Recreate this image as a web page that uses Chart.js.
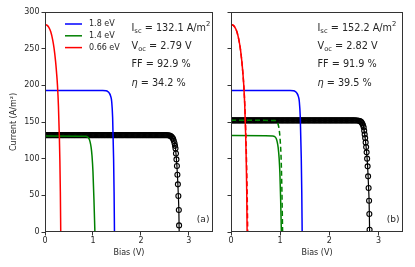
<!DOCTYPE html>
<html>
<head>
<meta charset="utf-8">
<script src="https://cdn.jsdelivr.net/npm/chart.js@4.4.1/dist/chart.umd.min.js"></script>
<style>
    html, body { margin: 0; padding: 0; background: #fff; }
    #wrap { position: relative; width: 415px; height: 267px; overflow: hidden; }
    canvas { position: absolute; top: 0; }
    #chartA { left: 0; }
    #chartB { left: 218px; }
</style>
</head>
<body>
<div id="wrap">
    <canvas id="chartA" width="218" height="267"></canvas>
    <canvas id="chartB" width="197" height="267"></canvas>
</div>
<script>
// ============ DATA ============

const xTicks = [0, 1, 2, 3];
const yTicks = [0, 50, 100, 150, 200, 250, 300];
const legendLabels = ['1.8 eV', '1.4 eV', '0.66 eV'];
const panelTags = ['(a)', '(b)'];
const iscValues = ['132.1', '152.2'];
const vocValues = ['2.79', '2.82'];
const ffValues = ['92.9', '91.9'];
const etaValues = ['34.2', '39.5'];

// 0.66 eV subcell
const redBias = [0, 0.04, 0.08, 0.12, 0.16, 0.19, 0.22, 0.24, 0.26, 0.28, 0.30, 0.31, 0.32, 0.328];
const redCurrent = [283, 282, 279, 273, 262, 250, 233, 218, 200, 172, 128, 98, 55, 0];
const redDashBias = [0, 0.04, 0.08, 0.12, 0.16, 0.19, 0.22, 0.24, 0.26, 0.28, 0.30, 0.315, 0.33, 0.34];
const redDashCurrent = [283, 282, 279, 273, 262, 250, 233, 218, 200, 175, 138, 100, 50, 0];

// 1.8 eV subcell
const blueBias = [0, 1.2, 1.27, 1.31, 1.34, 1.37, 1.39, 1.41, 1.43, 1.44, 1.448];
const blueCurrent = [193, 192.8, 192.5, 191.5, 189.5, 185, 178, 156, 100, 55, 0];

// 1.4 eV subcell
const greenBiasA = [0, 0.85, 0.89, 0.92, 0.94, 0.96, 0.98, 1.0, 1.02, 1.04];
const greenCurrentA = [131, 130.6, 129.5, 127, 123, 116, 104, 82, 45, 0];
const greenBiasB = [0, 0.85, 0.89, 0.92, 0.94, 0.96, 0.98, 0.995, 1.01, 1.025];
const greenCurrentB = [131.5, 131, 130, 127.5, 123, 115, 100, 80, 45, 0];
const greenDashBias = [0, 0.9, 0.94, 0.96, 0.98, 1.0, 1.02, 1.035, 1.05];
const greenDashCurrent = [152.5, 152, 150, 146.5, 140, 126, 100, 60, 0];

// tandem (markers)
const tandemBiasA = [
    0, 0.025, 0.05, 0.075, 0.1, 0.125, 0.15, 0.175, 0.2, 0.225,
    0.25, 0.275, 0.3, 0.325, 0.35, 0.375, 0.4, 0.425, 0.45, 0.475,
    0.5, 0.525, 0.55, 0.575, 0.6, 0.625, 0.65, 0.675, 0.7, 0.725,
    0.75, 0.775, 0.8, 0.825, 0.85, 0.875, 0.9, 0.925, 0.95, 0.975,
    1, 1.025, 1.05, 1.075, 1.1, 1.125, 1.15, 1.175, 1.2, 1.225,
    1.25, 1.275, 1.3, 1.325, 1.35, 1.375, 1.4, 1.425, 1.45, 1.475,
    1.5, 1.525, 1.55, 1.575, 1.6, 1.625, 1.65, 1.675, 1.7, 1.725,
    1.75, 1.775, 1.8, 1.825, 1.85, 1.875, 1.9, 1.925, 1.95, 1.975,
    2, 2.025, 2.05, 2.075, 2.1, 2.125, 2.15, 2.175, 2.2, 2.225,
    2.25, 2.275, 2.3, 2.325, 2.35, 2.375, 2.4, 2.425, 2.45, 2.475,
    2.5, 2.525, 2.55,
    2.575, 2.6, 2.62, 2.64, 2.655, 2.67, 2.685, 2.7, 2.71, 2.72, 2.73, 2.74,
    2.75, 2.76, 2.77, 2.78, 2.79, 2.795
];
const tandemCurrentA = [
    132.1, 132.1, 132.1, 132.1, 132.1, 132.1, 132.1, 132.1, 132.1, 132.1,
    132.1, 132.1, 132.1, 132.1, 132.1, 132.1, 132.1, 132.1, 132.1, 132.1,
    132.1, 132.1, 132.1, 132.1, 132.1, 132.1, 132.1, 132.1, 132.1, 132.1,
    132.1, 132.1, 132.1, 132.1, 132.1, 132.1, 132.1, 132.1, 132.1, 132.1,
    132.1, 132.1, 132.1, 132.1, 132.1, 132.1, 132.1, 132.1, 132.1, 132.1,
    132.1, 132.1, 132.1, 132.1, 132.1, 132.1, 132.1, 132.1, 132.1, 132.1,
    132.1, 132.1, 132.1, 132.1, 132.1, 132.1, 132.1, 132.1, 132.1, 132.1,
    132.1, 132.1, 132.1, 132.1, 132.1, 132.1, 132.1, 132.1, 132.1, 132.1,
    132.1, 132.1, 132.1, 132.1, 132.1, 132.1, 132.1, 132.1, 132.1, 132.1,
    132.1, 132.1, 132.1, 132.1, 132.1, 132.1, 132.1, 132.1, 132.1, 132.1,
    132.1, 132.1, 132.0,
    131.8, 131.4, 130.8, 129.8, 128.6, 127, 124.5, 121, 117.5, 114, 107, 99,
    90, 78, 65, 49, 30, 9
];
const tandemEndA = [2.797, 0];

const tandemBiasB = [
    0, 0.025, 0.05, 0.075, 0.1, 0.125, 0.15, 0.175, 0.2, 0.225,
    0.25, 0.275, 0.3, 0.325, 0.35, 0.375, 0.4, 0.425, 0.45, 0.475,
    0.5, 0.525, 0.55, 0.575, 0.6, 0.625, 0.65, 0.675, 0.7, 0.725,
    0.75, 0.775, 0.8, 0.825, 0.85, 0.875, 0.9, 0.925, 0.95, 0.975,
    1, 1.025, 1.05, 1.075, 1.1, 1.125, 1.15, 1.175, 1.2, 1.225,
    1.25, 1.275, 1.3, 1.325, 1.35, 1.375, 1.4, 1.425, 1.45, 1.475,
    1.5, 1.525, 1.55, 1.575, 1.6, 1.625, 1.65, 1.675, 1.7, 1.725,
    1.75, 1.775, 1.8, 1.825, 1.85, 1.875, 1.9, 1.925, 1.95, 1.975,
    2, 2.025, 2.05, 2.075, 2.1, 2.125, 2.15, 2.175, 2.2, 2.225,
    2.25, 2.275, 2.3, 2.325, 2.35, 2.375, 2.4, 2.425, 2.45, 2.475,
    2.5, 2.525, 2.55, 2.575, 2.6,
    2.62, 2.64, 2.655, 2.67, 2.685, 2.70, 2.71, 2.72, 2.73, 2.74, 2.75, 2.76, 2.77,
    2.78, 2.79, 2.80, 2.81, 2.815, 2.82
];
const tandemCurrentB = [
    152.2, 152.2, 152.2, 152.2, 152.2, 152.2, 152.2, 152.2, 152.2, 152.2,
    152.2, 152.2, 152.2, 152.2, 152.2, 152.2, 152.2, 152.2, 152.2, 152.2,
    152.2, 152.2, 152.2, 152.2, 152.2, 152.2, 152.2, 152.2, 152.2, 152.2,
    152.2, 152.2, 152.2, 152.2, 152.2, 152.2, 152.2, 152.2, 152.2, 152.2,
    152.2, 152.2, 152.2, 152.2, 152.2, 152.2, 152.2, 152.2, 152.2, 152.2,
    152.2, 152.2, 152.2, 152.2, 152.2, 152.2, 152.2, 152.2, 152.2, 152.2,
    152.2, 152.2, 152.2, 152.2, 152.2, 152.2, 152.2, 152.2, 152.2, 152.2,
    152.2, 152.2, 152.2, 152.2, 152.2, 152.2, 152.2, 152.2, 152.2, 152.2,
    152.2, 152.2, 152.2, 152.2, 152.2, 152.2, 152.2, 152.2, 152.2, 152.2,
    152.2, 152.2, 152.2, 152.2, 152.2, 152.2, 152.2, 152.2, 152.2, 152.2,
    152.2, 152.2, 152.1, 152.0, 151.8,
    151.3, 150.5, 149.5, 148, 146, 142.7, 138.2, 133.1, 128.2, 122.2, 115.8, 108.6, 100,
    89.5, 75.9, 60, 42.7, 24.6, 3
];
const tandemEndB = [2.822, 0];

// ============ HELPERS ============

const FONT = '"DejaVu Sans", sans-serif';
const TEXT = '#262626';
const AXIS = '#333';

function pts(xs, ys) {
    return xs.map((x, i) => ({ x: x, y: ys[i] }));
}

function curve(xs, ys, color, dash) {
    return {
        data: pts(xs, ys),
        borderColor: color,
        borderWidth: 1.5,
        borderDash: dash || [],
        cubicInterpolationMode: 'monotone',
        pointRadius: 0,
        fill: false,
        clip: 0,
    };
}

function tandemLine(xs, ys, end) {
    const d = curve(xs, ys, '#000');
    d.data.push({ x: end[0], y: end[1] });
    d.borderWidth = 1.2;
    return d;
}

function tandemMarkers(xs, ys) {
    return {
        data: pts(xs, ys),
        showLine: false,
        pointStyle: 'circle',
        pointRadius: 2.5,
        pointBorderWidth: 1.1,
        pointBorderColor: '#000',
        pointBackgroundColor: 'rgba(0,0,0,0)',
        clip: 0,
    };
}

function rich(ctx, x, y, parts) {
    parts.forEach(p => {
        let size = 9.7, dy = 0;
        if (p.sub) { size = 6.8; dy = 2.5; }
        if (p.sup) { size = 6.8; dy = -4.5; }
        ctx.font = (p.it ? 'italic ' : '') + size + 'px ' + FONT;
        ctx.fillText(p.t, x, y + dy);
        x += ctx.measureText(p.t).width;
    });
}

const panelPlugin = {
    id: 'panel',
    afterDraw(chart, args, o) {
        const ctx = chart.ctx;
        const a = chart.chartArea;
        ctx.save();
        // frame
        ctx.strokeStyle = AXIS;
        ctx.lineWidth = 1;
        ctx.strokeRect(Math.round(a.left) + 0.5, Math.round(a.top) + 0.5,
            Math.round(a.right - a.left) - 1, Math.round(a.bottom - a.top) - 1);

        // legend
        if (o.legend) {
            o.legend.forEach((it, i) => {
                const y = a.top + 12 + i * 11.8;
                ctx.strokeStyle = it.color;
                ctx.lineWidth = 1.5;
                ctx.beginPath();
                ctx.moveTo(a.left + 20, y);
                ctx.lineTo(a.left + 37, y);
                ctx.stroke();
                ctx.fillStyle = TEXT;
                ctx.font = '8px ' + FONT;
                ctx.textBaseline = 'middle';
                ctx.textAlign = 'left';
                ctx.fillText(it.text, a.left + 44, y);
            });
        }

        // figures of merit
        ctx.fillStyle = TEXT;
        ctx.textBaseline = 'alphabetic';
        ctx.textAlign = 'left';
        const x = a.left + 86.5;
        rich(ctx, x, a.top + 18.5, [{ t: 'I' }, { t: 'sc', sub: 1 }, { t: ' = ' + o.isc + ' A/m' }, { t: '2', sup: 1 }]);
        rich(ctx, x, a.top + 36.5, [{ t: 'V' }, { t: 'oc', sub: 1 }, { t: ' = ' + o.voc + ' V' }]);
        rich(ctx, x, a.top + 55, [{ t: 'FF = ' + o.ff + ' %' }]);
        rich(ctx, x, a.top + 73.5, [{ t: 'η', it: 1 }, { t: ' = ' + o.eta + ' %' }]);

        // panel tag
        ctx.font = '9px ' + FONT;
        ctx.textAlign = 'right';
        ctx.fillText(o.tag, a.right - 3.5, a.top + 209.5);
        ctx.restore();
    }
};

function scalesFor(withLabels, yWidth) {
    const font = { family: FONT, size: 8 };
    const grid = { display: true, drawOnChartArea: false, drawTicks: true, tickLength: 3.5, color: AXIS, lineWidth: 1 };
    return {
        x: {
            type: 'linear', min: 0, max: 3.5,
            afterFit: s => { s.height = 35; },
            afterBuildTicks: s => { s.ticks = xTicks.map(v => ({ value: v })); },
            ticks: { font: font, color: TEXT, padding: 1, maxRotation: 0 },
            grid: grid,
            border: { display: false },
            title: { display: true, text: 'Bias (V)', font: font, color: TEXT, padding: { top: 0, bottom: 9 } }
        },
        y: {
            type: 'linear', min: 0, max: 300,
            afterFit: s => { s.width = yWidth; },
            afterBuildTicks: s => { s.ticks = yTicks.map(v => ({ value: v })); },
            ticks: { font: font, color: TEXT, padding: 2, callback: withLabels ? (v => v) : (() => '') },
            grid: grid,
            border: { display: false },
            title: withLabels
                ? { display: true, text: 'Current (A/m²)', font: font, color: TEXT, padding: { top: 9, bottom: 0 } }
                : { display: false }
        }
    };
}

// ============ CHARTS ============

new Chart(document.getElementById('chartA'), {
    type: 'line',
    data: {
        datasets: [
            curve(redBias, redCurrent, '#ff0000'),
            curve(greenBiasA, greenCurrentA, '#008000'),
            curve(blueBias, blueCurrent, '#0000ff'),
            tandemLine(tandemBiasA, tandemCurrentA, tandemEndA),
            tandemMarkers(tandemBiasA, tandemCurrentA),
        ]
    },
    options: {
        responsive: false,
        animation: false,
        devicePixelRatio: 1,
        layout: { padding: { top: 12, right: 1, left: 0, bottom: 0 } },
        plugins: {
            legend: { display: false },
            tooltip: { enabled: false },
            panel: {
                legend: [
                    { text: legendLabels[0], color: '#0000ff' },
                    { text: legendLabels[1], color: '#008000' },
                    { text: legendLabels[2], color: '#ff0000' },
                ],
                isc: iscValues[0], voc: vocValues[0], ff: ffValues[0], eta: etaValues[0], tag: panelTags[0]
            }
        },
        scales: scalesFor(true, 45)
    },
    plugins: [panelPlugin]
});

new Chart(document.getElementById('chartB'), {
    type: 'line',
    data: {
        datasets: [
            curve(redDashBias, redDashCurrent, '#ff0000', [5, 3]),
            curve(redBias, redCurrent, '#ff0000'),
            curve(greenDashBias, greenDashCurrent, '#008000', [5, 3]),
            curve(greenBiasB, greenCurrentB, '#008000'),
            curve(blueBias, blueCurrent, '#0000ff'),
            tandemLine(tandemBiasB, tandemCurrentB, tandemEndB),
            tandemMarkers(tandemBiasB, tandemCurrentB),
        ]
    },
    options: {
        responsive: false,
        animation: false,
        devicePixelRatio: 1,
        layout: { padding: { top: 12, right: 12, left: 0, bottom: 0 } },
        plugins: {
            legend: { display: false },
            tooltip: { enabled: false },
            panel: {
                isc: iscValues[1], voc: vocValues[1], ff: ffValues[1], eta: etaValues[1], tag: panelTags[1]
            }
        },
        scales: scalesFor(false, 13)
    },
    plugins: [panelPlugin]
});
</script>
</body>
</html>
